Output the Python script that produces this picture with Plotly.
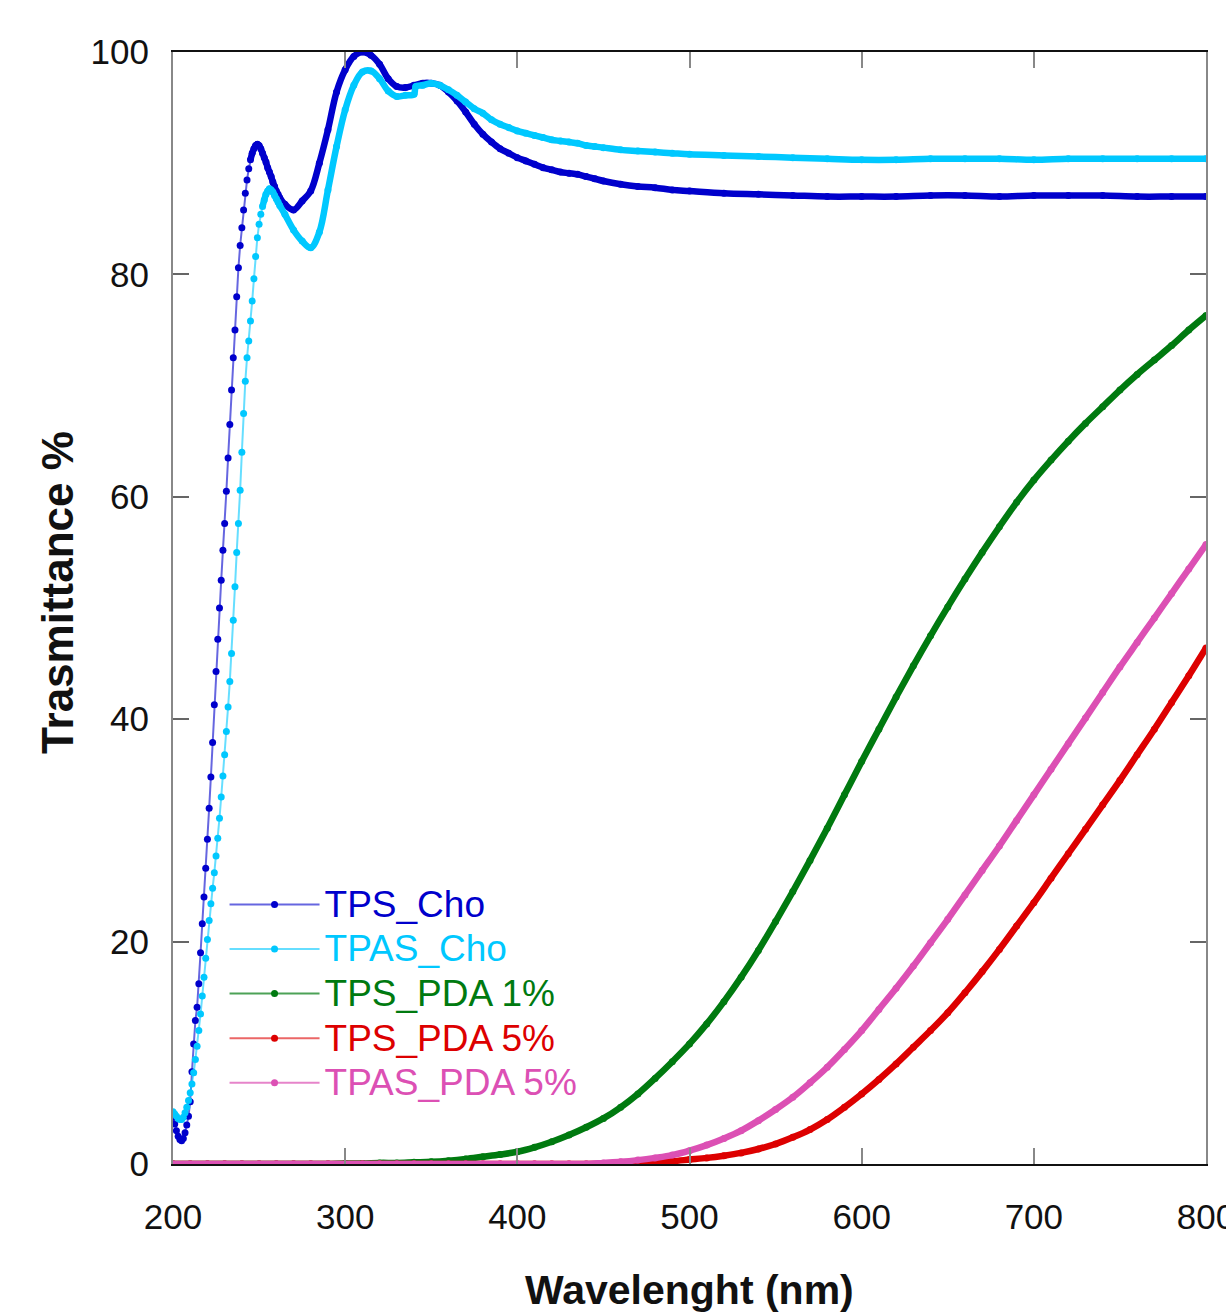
import plotly.graph_objects as go

# ---------------- data ----------------
tps_cho_x = list(range(200, 263)) + [265, 270, 275, 280, 285, 290, 295, 300, 305, 310, 315, 320, 325, 330, 335, 340,
                                     345, 350, 355, 360, 365, 370, 375, 380, 385, 390, 395, 400, 405, 410, 415, 420,
                                     425, 430, 435, 440, 445, 450, 460, 470, 480, 490, 500, 520, 540, 560, 580, 600,
                                     620, 640, 660, 680, 700, 720, 740, 760, 780, 800]
tps_cho_y = [4.2, 3.6, 3.0, 2.5, 2.2, 2.1, 2.3, 2.8, 3.5, 4.3,
             5.6, 8.3, 10.8, 12.9, 14.1, 16.2, 19.0, 21.6, 24.0, 26.6,
             29.2, 32.0, 34.8, 37.9, 41.3, 44.3, 47.2, 50.0, 52.5, 55.2,
             57.6, 60.5, 63.5, 66.5, 69.6, 72.5, 75.0, 78.0, 80.6, 82.6,
             84.2, 85.8, 87.3, 88.5, 89.5, 90.3, 90.9, 91.3, 91.6, 91.7,
             91.6, 91.3, 90.9, 90.5, 90.1, 89.6, 89.2, 88.8, 88.3, 87.9,
             87.5, 87.2, 86.9,
             86.3, 85.8, 86.6, 87.5, 90.0, 93.0, 96.4, 98.4, 99.6, 100.0, 99.7, 98.9, 97.6, 96.9, 96.8, 97.0,
             97.2, 97.2, 97.0, 96.4, 95.6, 94.6, 93.5, 92.6, 91.9, 91.3, 90.9, 90.5, 90.2, 89.9, 89.6, 89.4,
             89.2, 89.1, 89.0, 88.8, 88.6, 88.4, 88.1, 87.9, 87.8, 87.6, 87.5, 87.3, 87.2, 87.1, 87.0, 87.0,
             87.0, 87.1, 87.1, 87.0, 87.1, 87.1, 87.1, 87.0, 87.0, 87.0]

tpas_cho_x = list(range(200, 263)) + [265, 270, 275, 280, 285, 290, 295, 300, 305, 310, 315, 320, 325, 330, 335, 340,
                                      341, 345, 350, 355, 360, 365, 370, 375, 380, 385, 390, 395, 400, 405, 410, 415,
                                      420, 425, 430, 435, 440, 445, 450, 460, 470, 480, 490, 500, 520, 540, 560, 580,
                                      600, 620, 640, 660, 680, 700, 720, 740, 760, 780, 800]
tpas_cho_y = [4.7, 4.5, 4.3, 4.1, 4.0, 4.0, 4.2, 4.6, 5.1, 5.7,
              6.4, 7.2, 8.2, 9.4, 10.6, 12.0, 13.5, 15.1, 16.8, 18.5,
              20.2, 21.9, 23.4, 24.8, 26.2, 27.7, 29.3, 31.1, 33.0, 34.9,
              36.8, 38.9, 41.1, 43.4, 45.9, 48.9, 51.9, 55.0, 57.6, 60.6,
              64.0, 67.5, 70.4, 72.5, 74.0, 75.8, 77.6, 79.6, 81.6, 83.3,
              84.5, 85.4, 86.1, 86.7, 87.2, 87.5, 87.7, 87.6, 87.4, 87.1,
              86.8, 86.5, 86.2,
              85.4, 84.0, 83.0, 82.4, 83.8, 87.6, 91.5, 94.8, 97.0, 98.2, 98.3, 97.6, 96.5, 96.0, 96.1, 96.2,
              96.9, 97.0, 97.2, 97.0, 96.6, 96.1, 95.5, 94.9, 94.5, 93.9, 93.5, 93.2, 92.9, 92.7, 92.5, 92.3,
              92.1, 92.0, 91.9, 91.8, 91.6, 91.5, 91.4, 91.2, 91.1, 91.0, 90.9, 90.8, 90.7, 90.6, 90.5, 90.4,
              90.3, 90.3, 90.4, 90.4, 90.4, 90.3, 90.4, 90.4, 90.4, 90.4, 90.4]

pda_x = list(range(200, 801, 10))
tps_pda1_y = [0.0, 0.0, 0.0, 0.0, 0.0, 0.0, 0.0, 0.0, 0.0, 0.0,
              0.05, 0.05, 0.1, 0.1, 0.15, 0.2, 0.3, 0.45, 0.65, 0.85,
              1.1, 1.5, 2.0, 2.6, 3.3, 4.1, 5.1, 6.3, 7.7, 9.2,
              10.8, 12.6, 14.6, 16.8, 19.2, 21.8, 24.5, 27.3, 30.2, 33.2,
              36.2, 39.1, 42.0, 44.8, 47.5, 50.1, 52.6, 55.0, 57.3, 59.5,
              61.5, 63.3, 65.0, 66.6, 68.1, 69.6, 71.0, 72.3, 73.6, 75.0,
              76.3]
tps_pda5_y = [0.0] * 25 + [0.02, 0.05, 0.1, 0.15, 0.25, 0.4, 0.55, 0.75, 1.0, 1.35,
                           1.8, 2.4, 3.1, 4.0, 5.1, 6.3, 7.6, 9.0, 10.5, 12.0,
                           13.6, 15.4, 17.3, 19.3, 21.4, 23.5, 25.7, 27.9, 30.1, 32.3,
                           34.5, 36.8, 39.1, 41.5, 43.9, 46.4]
tpas_pda5_y = [0.0] * 25 + [0.1, 0.2, 0.35, 0.55, 0.8, 1.2, 1.7, 2.3, 3.0, 3.9,
                            4.9, 6.0, 7.3, 8.7, 10.3, 12.0, 13.9, 15.8, 17.8, 19.9,
                            22.0, 24.2, 26.4, 28.6, 30.9, 33.2, 35.5, 37.8, 40.1, 42.4,
                            44.7, 46.9, 49.1, 51.3, 53.5, 55.7]

series_names = ["TPS_Cho", "TPAS_Cho", "TPS_PDA 1%", "TPS_PDA 5%", "TPAS_PDA 5%"]
series_x = [tps_cho_x, tpas_cho_x, pda_x, pda_x, pda_x]
series_y = [tps_cho_y, tpas_cho_y, tps_pda1_y, tps_pda5_y, tpas_pda5_y]
colors = ["#0000cc", "#00c8ff", "#007a10", "#dd0000", "#dc50b4"]
line_rgba = ["rgba(0,0,204,0.6)", "rgba(0,200,255,0.6)", "rgba(0,122,16,0.7)",
             "rgba(221,0,0,0.6)", "rgba(220,80,180,0.7)"]
thick_from = [245, 252, 200, 200, 200]  # where the dense (continuous-looking) part starts

FONT = "Liberation Sans, Arial, sans-serif"

fig = go.Figure()
for name, xs, ys, c, lc, t0 in zip(series_names, series_x, series_y, colors, line_rgba, thick_from):
    xs_t = [x for x in xs if x >= t0]
    ys_t = [y for x, y in zip(xs, ys) if x >= t0]
    fig.add_trace(go.Scatter(x=xs_t, y=ys_t, mode="lines", line=dict(color=c, width=6.5, shape="spline"),
                             showlegend=False, hoverinfo="skip"))
    fig.add_trace(go.Scatter(x=xs, y=ys, mode="lines+markers",
                             name=f"<span style='color:{c};font-size:37px'>{name}</span>",
                             line=dict(color=lc, width=2),
                             marker=dict(color=c, size=7)))

fig.update_layout(
    width=1226, height=1315,
    margin=dict(l=173, r=20, t=52, b=151),
    paper_bgcolor="white", plot_bgcolor="white",
    font=dict(family=FONT, color="#111111"),
    showlegend=True,
    legend=dict(x=0.0499, y=0.258, xanchor="left", yanchor="top",
                bgcolor="rgba(0,0,0,0)", font=dict(size=32, family=FONT),
                itemwidth=90, tracegroupgap=0),
    xaxis=dict(range=[200, 800], tickmode="array", tickvals=[200, 300, 400, 500, 600, 700, 800],
               ticks="inside", ticklen=16, tickwidth=1.5, tickcolor="#888888",
               showline=True, linecolor="#111111", linewidth=1.5, mirror="ticks",
               showgrid=False, zeroline=False,
               tickfont=dict(size=35, family=FONT, color="#111111"),
               ticklabelstandoff=21, ticklabeloverflow="allow", automargin=False),
    yaxis=dict(range=[0, 100], tickmode="array", tickvals=[0, 20, 40, 60, 80, 100],
               ticks="inside", ticklen=16, tickwidth=1.5, tickcolor="#666666",
               showline=True, linecolor="#888888", linewidth=2, mirror="ticks",
               showgrid=False, zeroline=False,
               tickfont=dict(size=35, family=FONT, color="#111111"),
               ticklabelstandoff=15, ticklabeloverflow="allow", automargin=False),
    annotations=[
        dict(text="<b>Wavelenght (nm)</b>", xref="paper", yref="paper", x=0.5, y=-0.113,
             xanchor="center", yanchor="middle", showarrow=False,
             font=dict(size=41, family=FONT, color="#111111")),
        dict(text="<b>Trasmittance %</b>", xref="paper", yref="paper", x=-0.1118, y=0.514,
             xanchor="center", yanchor="middle", showarrow=False, textangle=-90,
             font=dict(size=44, family=FONT, color="#111111")),
    ],
)

fig.write_html("out.html")
